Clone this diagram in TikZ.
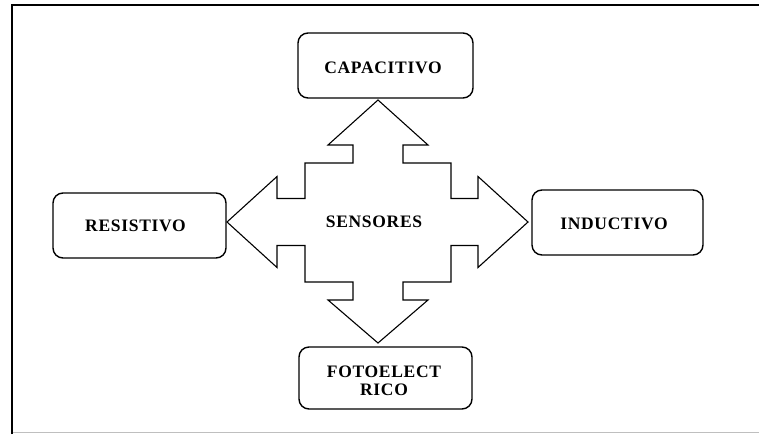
\documentclass[tikz,border=0pt]{standalone}
\usepackage{fontspec}
\newfontfamily\lblfont{Liberation Serif Bold}[LetterSpace=4]
\begin{document}
\begin{tikzpicture}[x=1pt,y=-1pt,
  box/.style={draw=black, line width=1.4pt, rounded corners=10pt, fill=white,
    inner sep=0pt, align=center},
  lbl/.style={font=\lblfont\fontsize{17.5}{18}\selectfont, align=center},
  cross/.style={draw=black, line width=1.1pt, line join=miter, fill=white}]
\useasboundingbox (0,0) rectangle (759,434);
\fill[white] (0,0) rectangle (759,434);

% page frame
\draw[black!25, line width=0.9pt] (12,432.5) -- (759,432.5);
\draw[black, line width=2.2pt] (12,434) -- (12,5) -- (759,5);

% four-way arrow around the centre
\draw[cross]
  (378,100) -- (428,145) -- (403,145) -- (403,163) -- (451,163) -- (451,198.5)
  -- (478,198.5) -- (478,176.5) -- (528,222) -- (478,267.5) -- (478,245.5)
  -- (451,245.5) -- (451,282) -- (403,282) -- (403,300) -- (428,300)
  -- (378,343) -- (328,300) -- (353,300) -- (353,282) -- (305,282)
  -- (305,245.5) -- (277,245.5) -- (277,267.5) -- (227,222) -- (277,176.5)
  -- (277,198.5) -- (305,198.5) -- (305,163) -- (353,163) -- (353,145)
  -- (328,145) -- cycle;

% boxes
\node[box, minimum width=175pt, minimum height=65pt] (cap) at (385.5,65.5) {};
\node[box, minimum width=173pt, minimum height=65pt] (res) at (139.5,225.5) {};
\node[box, minimum width=171pt, minimum height=65pt] (ind) at (617.5,222.5) {};
\node[box, minimum width=173pt, minimum height=62pt] (foto) at (385.5,378) {};

% labels
\node[lbl, anchor=base] (capt) at (383,73) {CAPACITIVO};
\node[lbl, anchor=base] (rest) at (135.5,231) {RESISTIVO};
\node[lbl, anchor=base] (indt) at (614,229) {INDUCTIVO};
\node[lbl, anchor=base] (fotot) at (384,377) {FOTOELECT};
\node[lbl, anchor=base] (fotot2) at (384,395) {RICO};
\node[lbl, anchor=base] (sens) at (374,227) {SENSORES};
\end{tikzpicture}
\end{document}
